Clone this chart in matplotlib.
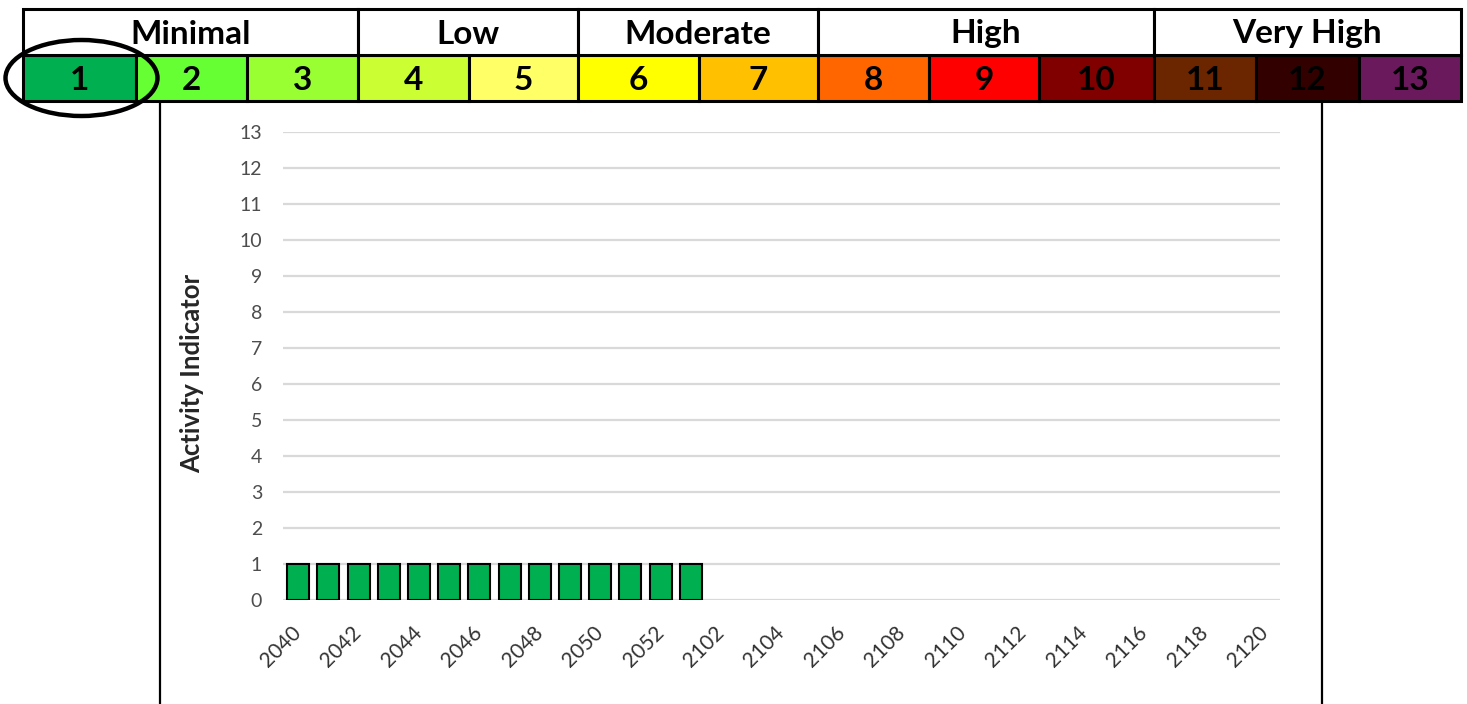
"""
Activity indicator chart with the 13-level colour legend on top.
"""

import matplotlib

matplotlib.use("Agg")
import matplotlib.pyplot as plt
from matplotlib.patches import Ellipse, Rectangle

plt.rcParams["font.family"] = ["Lato", "DejaVu Sans"]

# Legend data
LEVELS = [1, 2, 3, 4, 5, 6, 7, 8, 9, 10, 11, 12, 13]
LEVEL_COLORS = [
    "#00B050", "#66FF33", "#99FF33", "#CCFF33", "#FFFF66", "#FFFF00", "#FFC000",
    "#FF6600", "#FF0000", "#800000", "#6B2600", "#330000", "#6A1A5C",
]
GROUPS = ["Minimal", "Low", "Moderate", "High", "Very High"]
GROUP_SIZES = [3, 2, 2, 3, 3]
CURRENT_LEVEL = 1

# Chart data (year/week codes)
WEEKS = [
    2040, 2041, 2042, 2043, 2044, 2045, 2046, 2047, 2048, 2049, 2050, 2051, 2052,
    2101, 2102, 2103, 2104, 2105, 2106, 2107, 2108, 2109, 2110, 2111, 2112,
    2113, 2114, 2115, 2116, 2117, 2118, 2119, 2120,
]
ACTIVITY = [1, 1, 1, 1, 1, 1, 1, 1, 1, 1, 1, 1, 1, 1]

# Layout in pixels of the 1467x704 canvas
W, H = 1467, 704
CELL_EDGES = [23, 136, 247, 358, 469, 578, 699, 818, 929, 1039, 1154, 1256, 1359, 1461]
ROW_TOP, ROW_MID, ROW_BOT = 9, 55, 101
BOX_LEFT, BOX_RIGHT = 160, 1322
PLOT_LEFT, PLOT_RIGHT, PLOT_TOP, PLOT_BOT = 283, 1280, 132, 600

fig = plt.figure(figsize=(W / 100, H / 100), dpi=100)

# ---- header legend ----
hdr = fig.add_axes([0, 0, 1, 1])
hdr.set_xlim(0, W)
hdr.set_ylim(H, 0)
hdr.axis("off")

for i, (level, color) in enumerate(zip(LEVELS, LEVEL_COLORS)):
    x0, x1 = CELL_EDGES[i], CELL_EDGES[i + 1]
    hdr.add_patch(Rectangle((x0, ROW_MID), x1 - x0, ROW_BOT - ROW_MID,
                            facecolor=color, edgecolor="black", lw=2.2))
    hdr.text((x0 + x1) / 2, (ROW_MID + ROW_BOT) / 2 + 2, str(level),
             ha="center", va="center", fontsize=24, fontweight="bold", color="black")

start = 0
for name, size in zip(GROUPS, GROUP_SIZES):
    x0, x1 = CELL_EDGES[start], CELL_EDGES[start + size]
    hdr.add_patch(Rectangle((x0, ROW_TOP), x1 - x0, ROW_MID - ROW_TOP,
                            facecolor="white", edgecolor="black", lw=2.2))
    hdr.text((x0 + x1) / 2, (ROW_TOP + ROW_MID) / 2 + 2, name,
             ha="center", va="center", fontsize=24, fontweight="bold", color="black")
    start += size

# circle the current level
cx = (CELL_EDGES[CURRENT_LEVEL - 1] + CELL_EDGES[CURRENT_LEVEL]) / 2
hdr.add_patch(Ellipse((cx + 2, 78), 152, 76, facecolor="none",
                      edgecolor="black", lw=3.2, zorder=5))

# chart frame
hdr.plot([BOX_LEFT, BOX_LEFT], [ROW_BOT + 1, H], color="black", lw=1.6)
hdr.plot([BOX_RIGHT, BOX_RIGHT], [ROW_BOT + 1, H], color="black", lw=1.6)

# ---- bar chart ----
ax = fig.add_axes([PLOT_LEFT / W, 1 - PLOT_BOT / H,
                   (PLOT_RIGHT - PLOT_LEFT) / W, (PLOT_BOT - PLOT_TOP) / H])
ax.patch.set_alpha(0)

x = list(range(len(WEEKS)))
ax.bar(x[:len(ACTIVITY)], ACTIVITY, width=0.73, color="#00B050",
       edgecolor="black", linewidth=1.5, zorder=3)

ax.set_xlim(-0.5, len(WEEKS) - 0.5)
ax.set_ylim(0, 13)
ax.set_yticks(range(0, 14))
ax.set_xticks(x[::2])
ax.set_xticklabels([str(w) for w in WEEKS[::2]], rotation=45, ha="right",
                   va="center", rotation_mode="anchor", fontsize=15, color="#333333")
ax.tick_params(axis="x", length=0, pad=21)
ax.tick_params(axis="y", length=0, pad=15, labelsize=14, labelcolor="#4D4D4D")
ax.yaxis.grid(True, color="#D9D9D9", lw=1.6, zorder=0)
ax.set_axisbelow(True)
for side in ax.spines.values():
    side.set_visible(False)

ax.set_ylabel("Activity Indicator", fontsize=18.5, fontweight="bold", color="#262626")
ax.yaxis.set_label_coords((204 - PLOT_LEFT) / (PLOT_RIGHT - PLOT_LEFT),
                          (PLOT_BOT - 373) / (PLOT_BOT - PLOT_TOP))

fig.savefig("out.png", dpi=100)
